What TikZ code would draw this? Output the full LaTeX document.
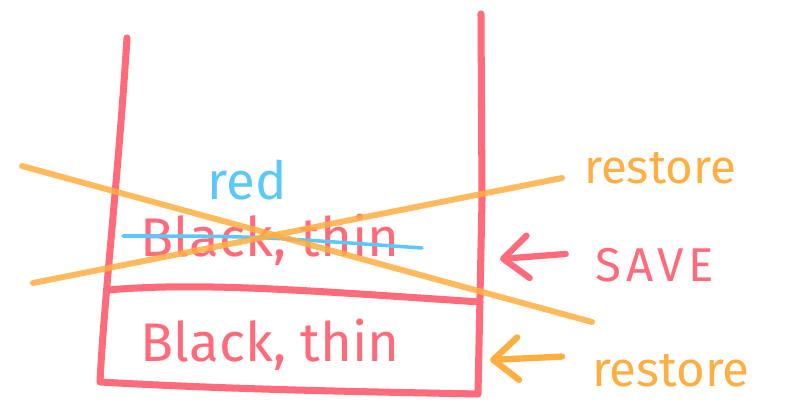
\documentclass[tikz,border=0pt]{standalone}
\usepackage{fontspec}
\setsansfont{Fira Sans}
\usetikzlibrary{arrows.meta}

\definecolor{pen}{HTML}{FF6B7A}
\definecolor{marker}{HTML}{FFAE42}
\definecolor{sky}{HTML}{5CC8F8}

\begin{document}
\begin{tikzpicture}[
  x=0.02cm, y=-0.02cm, font=\sffamily, line cap=round, line join=round,
  wall/.style={draw=pen, line width=4pt},
  cross/.style={draw=marker, line width=3.4pt, opacity=0.85},
  strike/.style={draw=sky, line width=2pt},
  word/.style={text=#1, inner sep=0pt, anchor=base},
  word/.default=pen,
  hand/.style={line width=3.6pt, shorten <=0.6cm, -{Straight Barb[length=0.5cm, width=0.85cm, round]}},
]
\useasboundingbox (0,0) rectangle (785,405);

% the stack: open box with one saved state below
\draw[wall] (127,38) .. controls (118,180) and (104,300) .. (100,382)
  .. controls (240,390) and (380,392) .. (478,394) -- (482,200) -- (481,14);
\draw[wall] (108,290) .. controls (200,282) and (300,290) .. (480,302);

\node[word, font=\sffamily\fontsize{31}{31}\selectfont] (base) at (270,362) {Black, thin};
\node[word, font=\sffamily\fontsize{31}{31}\selectfont] (top) at (270,257) {Black, thin};
\node[word=sky, font=\sffamily\fontsize{30}{30}\selectfont] (red) at (247,200) {red};
\draw[strike] (123,236) .. controls (250,236) .. (422,248);

% popped again
\draw[cross] (22,166) -- (592,322);
\draw[cross] (33,283) -- (562,178);

\node[word=marker, font=\sffamily\fontsize{27}{27}\selectfont] (rs1) at (660,184) {restore};
\node[word, font=\sffamily\fontsize{27}{27}\selectfont\addfontfeature{LetterSpace=10}] (save) at (655,282) {SAVE};
\node[word=marker, font=\sffamily\fontsize{28}{28}\selectfont] (rs2) at (671,387) {restore};

\coordinate (wallS) at (500,259);
\coordinate (wallR) at (490,360);
\draw[hand, pen] (save.west) ++(0,-14) coordinate (saveT) (saveT) -- (wallS);
\draw[hand, marker] (rs2.west) ++(0,-16) coordinate (rsT) (rsT) -- (wallR);
\end{tikzpicture}
\end{document}
